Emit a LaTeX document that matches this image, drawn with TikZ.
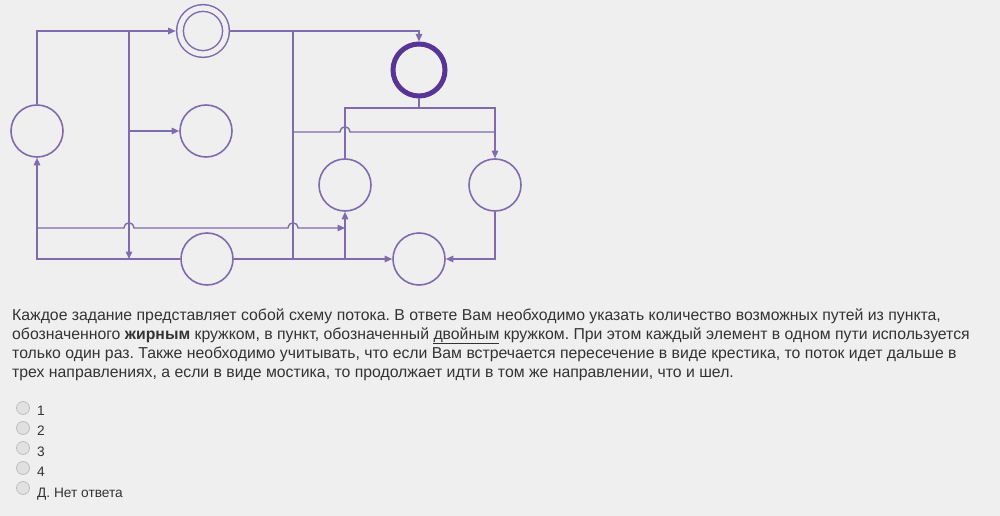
\documentclass[tikz,border=0pt]{standalone}
\usepackage{fontspec}
\setmainfont{Liberation Sans}
\usetikzlibrary{arrows.meta}
\definecolor{flow}{RGB}{126,108,174}
\definecolor{flowdark}{RGB}{88,52,150}
\definecolor{ink}{RGB}{51,51,51}
\definecolor{paper}{RGB}{239,239,239}
\frenchspacing

\begin{document}
\begin{tikzpicture}[x=1pt,y=-1pt]
\tikzstyle{main}=[circle, minimum size=52pt, inner sep=0pt, line width=1.6pt, draw=flow]
\tikzstyle{start}=[circle, minimum size=52pt, inner sep=0pt, line width=5pt, draw=flowdark]
\tikzstyle{finish}=[circle, minimum size=46pt, inner sep=0pt, line width=1.5pt, draw=flow, double=paper, double distance=5.2pt, outer sep=4.3pt]
\tikzstyle{connect}=[-{Triangle[length=7.5pt,width=6.5pt]}, line width=1.4pt, draw=flow]
\tikzstyle{wire}=[line width=1.4pt, draw=flow]
\tikzstyle{txt}=[anchor=base west, inner sep=0pt, font=\fontsize{15.8}{19}\selectfont, text=ink]
\tikzstyle{radio}=[circle, minimum size=13pt, inner sep=0pt, line width=0.8pt, draw=black!25, fill=black!12]
\tikzstyle{opt}=[anchor=base west, inner sep=0pt, font=\fontsize{13.7}{15}\selectfont, text=ink]
	\fill[paper] (0,0) rectangle (1000,516);
	% circles
	\node[main] (a) at (37,131) { };
	\node[finish] (b) at (203,31) { };
	\node[main] (c) at (206,131) { };
	\node[main] (d) at (207,259) { };
	\node[start] (e) at (419,70) { };
	\node[main] (f) at (345,185) { };
	\node[main] (g) at (495,185) { };
	\node[main] (h) at (419,259) { };
	% junctions
	\coordinate (j1) at (129,31);
	\coordinate (j2) at (129,131);
	\coordinate (j3) at (129,259);
	\coordinate (j4) at (293,31);
	\coordinate (j5) at (293,132);
	\coordinate (j6) at (293,259);
	\coordinate (k0) at (419,108);
	\coordinate (k2) at (495,108);
	\coordinate (k3) at (495,132);
	\coordinate (m1) at (37,228);
	\coordinate (m2) at (345,228);
	\coordinate (m3) at (345,259);
	% flow lines
	\draw[connect] (a.north) |- (b.west);
	\draw[connect] (j1) -- (j3);
	\draw[connect] (j2) -- (c.west);
	\draw[connect] (b.east) -| (e.north);
	\draw[wire] (j4) -- (j6);
	\draw[wire] (e.south) -- (k0);
	\draw[connect] (f.north) |- (k2) -- (g.north);
	\draw[wire] (j5) -- (340,132) .. controls (341,125) and (349,125) .. (350,132) -- (k3);
	\draw[connect] (d.west) -| (a.south);
	\draw[connect] (d.east) -- (h.west);
	\draw[connect] (m3) -- (f.south);
	\draw[connect] (m1) -- (124,228) .. controls (125,221) and (133,221) .. (134,228)
		-- (288,228) .. controls (289,221) and (297,221) .. (298,228) -- (m2);
	\draw[connect] (g.south) |- (h.east);
	% task text
	\node[txt] (line1) at (12,320) {Каждое задание представляет собой схему потока. В ответе Вам необходимо указать количество возможных путей из пункта,};
	\node[txt] (line2) at (12,339) {обозначенного \textbf{жирным} кружком, в пункт, обозначенный \underline{двойным} кружком. При этом каждый элемент в одном пути используется};
	\node[txt] (line3) at (12,358) {только один раз. Также необходимо учитывать, что если Вам встречается пересечение в виде крестика, то поток идет дальше в};
	\node[txt] (line4) at (12,377) {трех направлениях, а если в виде мостика, то продолжает идти в том же направлении, что и шел.};
	% answers
	\foreach \lbl [count=\i] in {1,2,3,4,{Д. Нет ответа}} {
		\node[radio] (r\i) at (23,388+20*\i) { };
		\node[opt] (o\i) at (37,394.5+20.5*\i) {\lbl};
	}
\end{tikzpicture}
\end{document}
